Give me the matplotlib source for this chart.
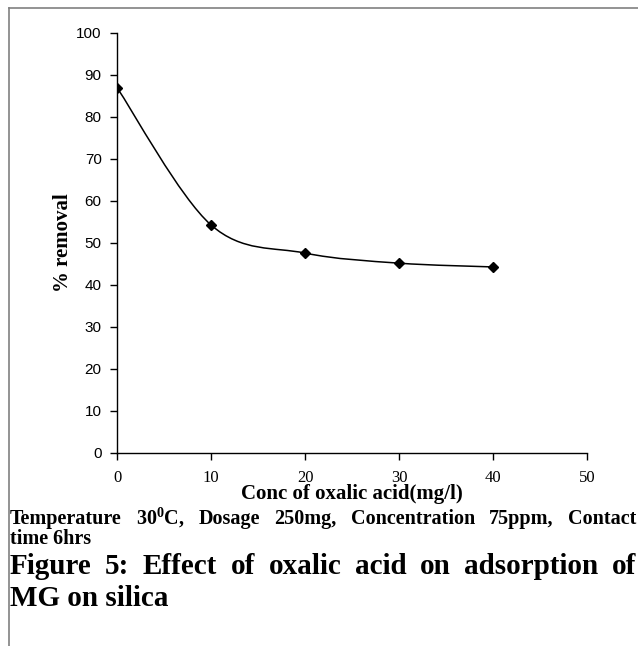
import numpy as np
import matplotlib.pyplot as plt
from matplotlib.path import Path
from matplotlib.patches import PathPatch
from matplotlib.lines import Line2D

# Data
conc = [0, 10, 20, 30, 40]
removal = [87.0, 54.3, 47.6, 45.2, 44.3]

x_ticks = [0, 10, 20, 30, 40, 50]
y_ticks = [0, 10, 20, 30, 40, 50, 60, 70, 80, 90, 100]

caption_lines = [r'Temperature 30$^{\mathrm{0}}$C, Dosage 250mg, Concentration 75ppm, Contact', 'time 6hrs']
title_lines = ['Figure 5: Effect of oxalic acid on adsorption of', 'MG on silica']

serif = ['Liberation Serif', 'DejaVu Serif']
sans = ['Liberation Sans', 'DejaVu Sans']
plt.rcParams['mathtext.fontset'] = 'custom'
plt.rcParams['mathtext.rm'] = 'Liberation Serif:bold'

W, H = 638, 646
fig = plt.figure(figsize=(W / 100, H / 100), dpi=100)
ax = fig.add_axes([117 / W, 1 - 453 / H, 470 / W, 420 / H])

# Smoothed line (Excel style Bezier through the points)
pts = np.column_stack([conc, removal])
ext = np.vstack([pts[0], pts, pts[-1]])
verts = [tuple(pts[0])]
codes = [Path.MOVETO]
for i in range(len(pts) - 1):
    p0, p1, p2, p3 = ext[i], ext[i + 1], ext[i + 2], ext[i + 3]
    c1 = p1 + (p2 - p0) / 6
    c2 = p2 - (p3 - p1) / 6
    verts += [tuple(c1), tuple(c2), tuple(p2)]
    codes += [Path.CURVE4] * 3
ax.add_patch(PathPatch(Path(verts, codes), facecolor='none', edgecolor='black', lw=1.1))
ax.plot(conc, removal, linestyle='none', marker='D', color='black', markersize=5)

ax.set_xlim(0, 50)
ax.set_ylim(0, 100)
ax.set_xticks(x_ticks)
ax.set_yticks(y_ticks)
ax.set_xticklabels([str(t) for t in x_ticks], family=serif, fontsize=12)
ax.set_yticklabels([str(t) for t in y_ticks], family=sans, fontsize=11)
ax.tick_params(direction='out', length=5, width=1)
ax.tick_params(axis='x', pad=7)
ax.tick_params(axis='y', pad=6)
for s in ['top', 'right']:
    ax.spines[s].set_visible(False)
for s in ['left', 'bottom']:
    ax.spines[s].set_linewidth(1)

ax.set_xlabel('Conc of oxalic acid(mg/l)', family=serif, fontweight='bold', fontsize=15, labelpad=-1)
ax.set_ylabel('% removal', family=serif, fontweight='bold', fontsize=15, labelpad=2)


def justified(words, y_base, size, x0=10, x1=636):
    # one line of text, words spread to fill x0..x1 like a justified paragraph
    renderer = fig.canvas.get_renderer()
    texts = [fig.text(0, 1 - y_base / H, w, family=serif, fontweight='bold', fontsize=size,
                      va='baseline', ha='left') for w in words]
    widths = [t.get_window_extent(renderer).width for t in texts]
    gap = (x1 - x0 - sum(widths)) / max(len(words) - 1, 1)
    x = x0
    for t, w in zip(texts, widths):
        t.set_x(x / W)
        x += w + gap


justified(caption_lines[0].split(' '), 524, 14.5)
fig.text(10 / W, 1 - 544 / H, caption_lines[1], family=serif, fontweight='bold', fontsize=14.5,
         va='baseline', ha='left')
justified(title_lines[0].split(' '), 574, 21)
fig.text(10 / W, 1 - 606 / H, title_lines[1], family=serif, fontweight='bold', fontsize=21,
         va='baseline', ha='left')

# Gray frame lines at top and left
fig.add_artist(Line2D([8.5 / W, 8.5 / W], [0, 1 - 8 / H], color='#808080', lw=1.2))
fig.add_artist(Line2D([8.5 / W, 1], [1 - 8 / H, 1 - 8 / H], color='#808080', lw=1.2))

fig.savefig('out.png', dpi=100)
